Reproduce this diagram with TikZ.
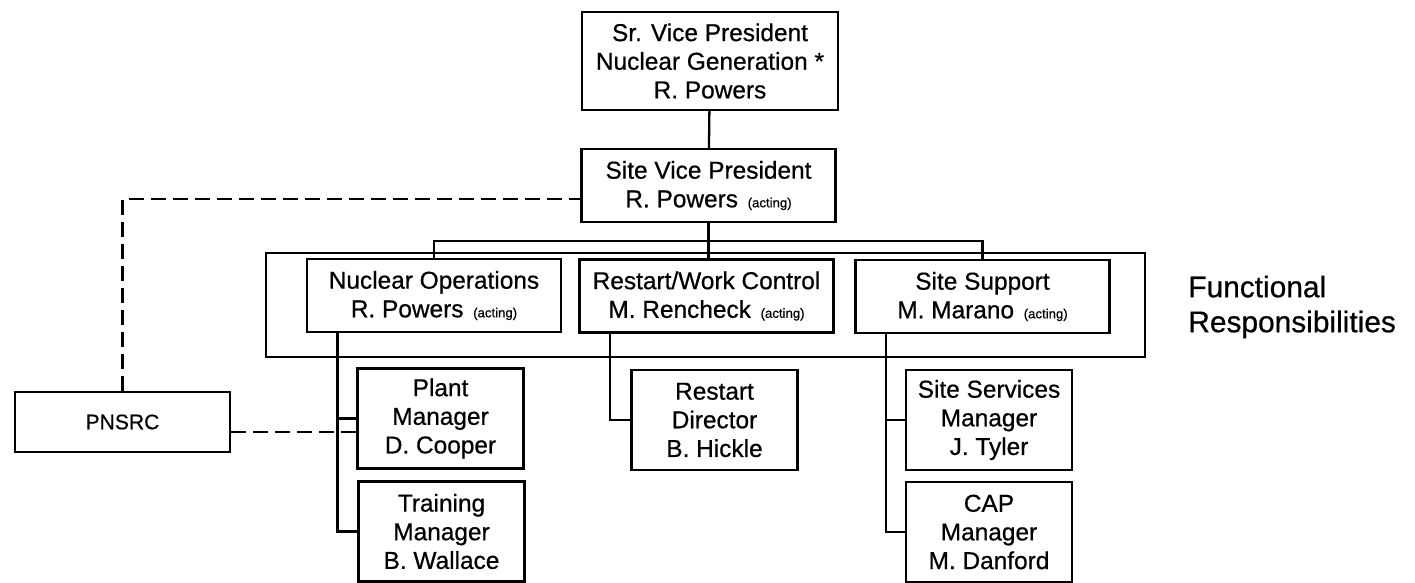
\documentclass[tikz,border=0pt]{standalone}
\usepackage{fontspec}
\setmainfont{Liberation Sans}[FakeBold=0.6]
\newcommand{\actingnote}{\hspace{5.5pt}{\fontsize{7.5}{8}\selectfont(acting)}}
\begin{document}
\begin{tikzpicture}[x=0.2mm, y=-0.2mm,
    box/.style={draw, line width=1.3pt, align=center, inner sep=0pt, font=\fontsize{13.9}{16.3}\selectfont},
    mid/.style={box, minimum width=50.8mm, minimum height=14.6mm},
    sub/.style={box, minimum width=33.2mm, minimum height=20mm},
    link/.style={line width=1.3pt},
    dlink/.style={line width=1.6pt, dash pattern=on 3mm off 1.4mm}]
    \useasboundingbox (0,0) rectangle (1415,583);
    % upper levels
    \node[box, minimum width=51.2mm, minimum height=19.6mm] (svp) at (710,61) {Sr. Vice President\\Nuclear Generation *\\R. Powers};
    \node[mid] (site) at (708.5,185.5) {Site Vice President\\R. Powers\actingnote};
    \node[mid] (nucops) at (434,295.5) {Nuclear Operations\\R. Powers\actingnote};
    \node[mid] (rwc) at (706.5,296) {Restart/Work Control\\M. Rencheck\actingnote};
    \node[mid] (ss) at (982.5,296.5) {Site Support\\M. Marano\actingnote};
    \draw[line width=0.9pt] (266,253) rectangle (1145,357);
    \node[align=left, anchor=west, inner sep=0pt, font=\fontsize{17}{19.9}\selectfont] (func) at (1188,307) {Functional\\Responsibilities};
    % managers
    \node[sub] (plant) at (440.5,418.5) {Plant\\Manager\\D. Cooper};
    \node[sub] (training) at (441.5,531.5) {Training\\Manager\\B. Wallace};
    \node[sub] (restart) at (714.5,420) {Restart\\Director\\B. Hickle};
    \node[sub] (sitesvc) at (989,420) {Site Services\\Manager\\J. Tyler};
    \node[sub] (cap) at (989,532) {CAP\\Manager\\M. Danford};
    \node[box, minimum width=43mm, minimum height=12mm, font=\fontsize{12}{14}\selectfont] (pnsrc) at (122.5,422) {PNSRC};
    % solid lines
    \coordinate (bar) at (0,241);
    \draw[link] (svp) -- (site);
    \draw[link] (site.south) -- (site.south |- rwc.north);
    \draw[link] (nucops.north) -- (nucops.north |- bar) -- (ss.north |- bar) -- (ss.north);
    \foreach \p/\c in {nucops/plant, nucops/training, rwc/restart, ss/sitesvc, ss/cap}
        \draw[link] ([xshift=6.3mm]\p.south west) |- (\c.west);
    % dashed lines
    \draw[dlink] (pnsrc.north) |- ([yshift=-2.7mm]site.west);
    \coordinate (pe) at ([yshift=-2mm]pnsrc.east);
    \draw[dlink] (pe) -- (pe -| plant.west);
\end{tikzpicture}
\end{document}
